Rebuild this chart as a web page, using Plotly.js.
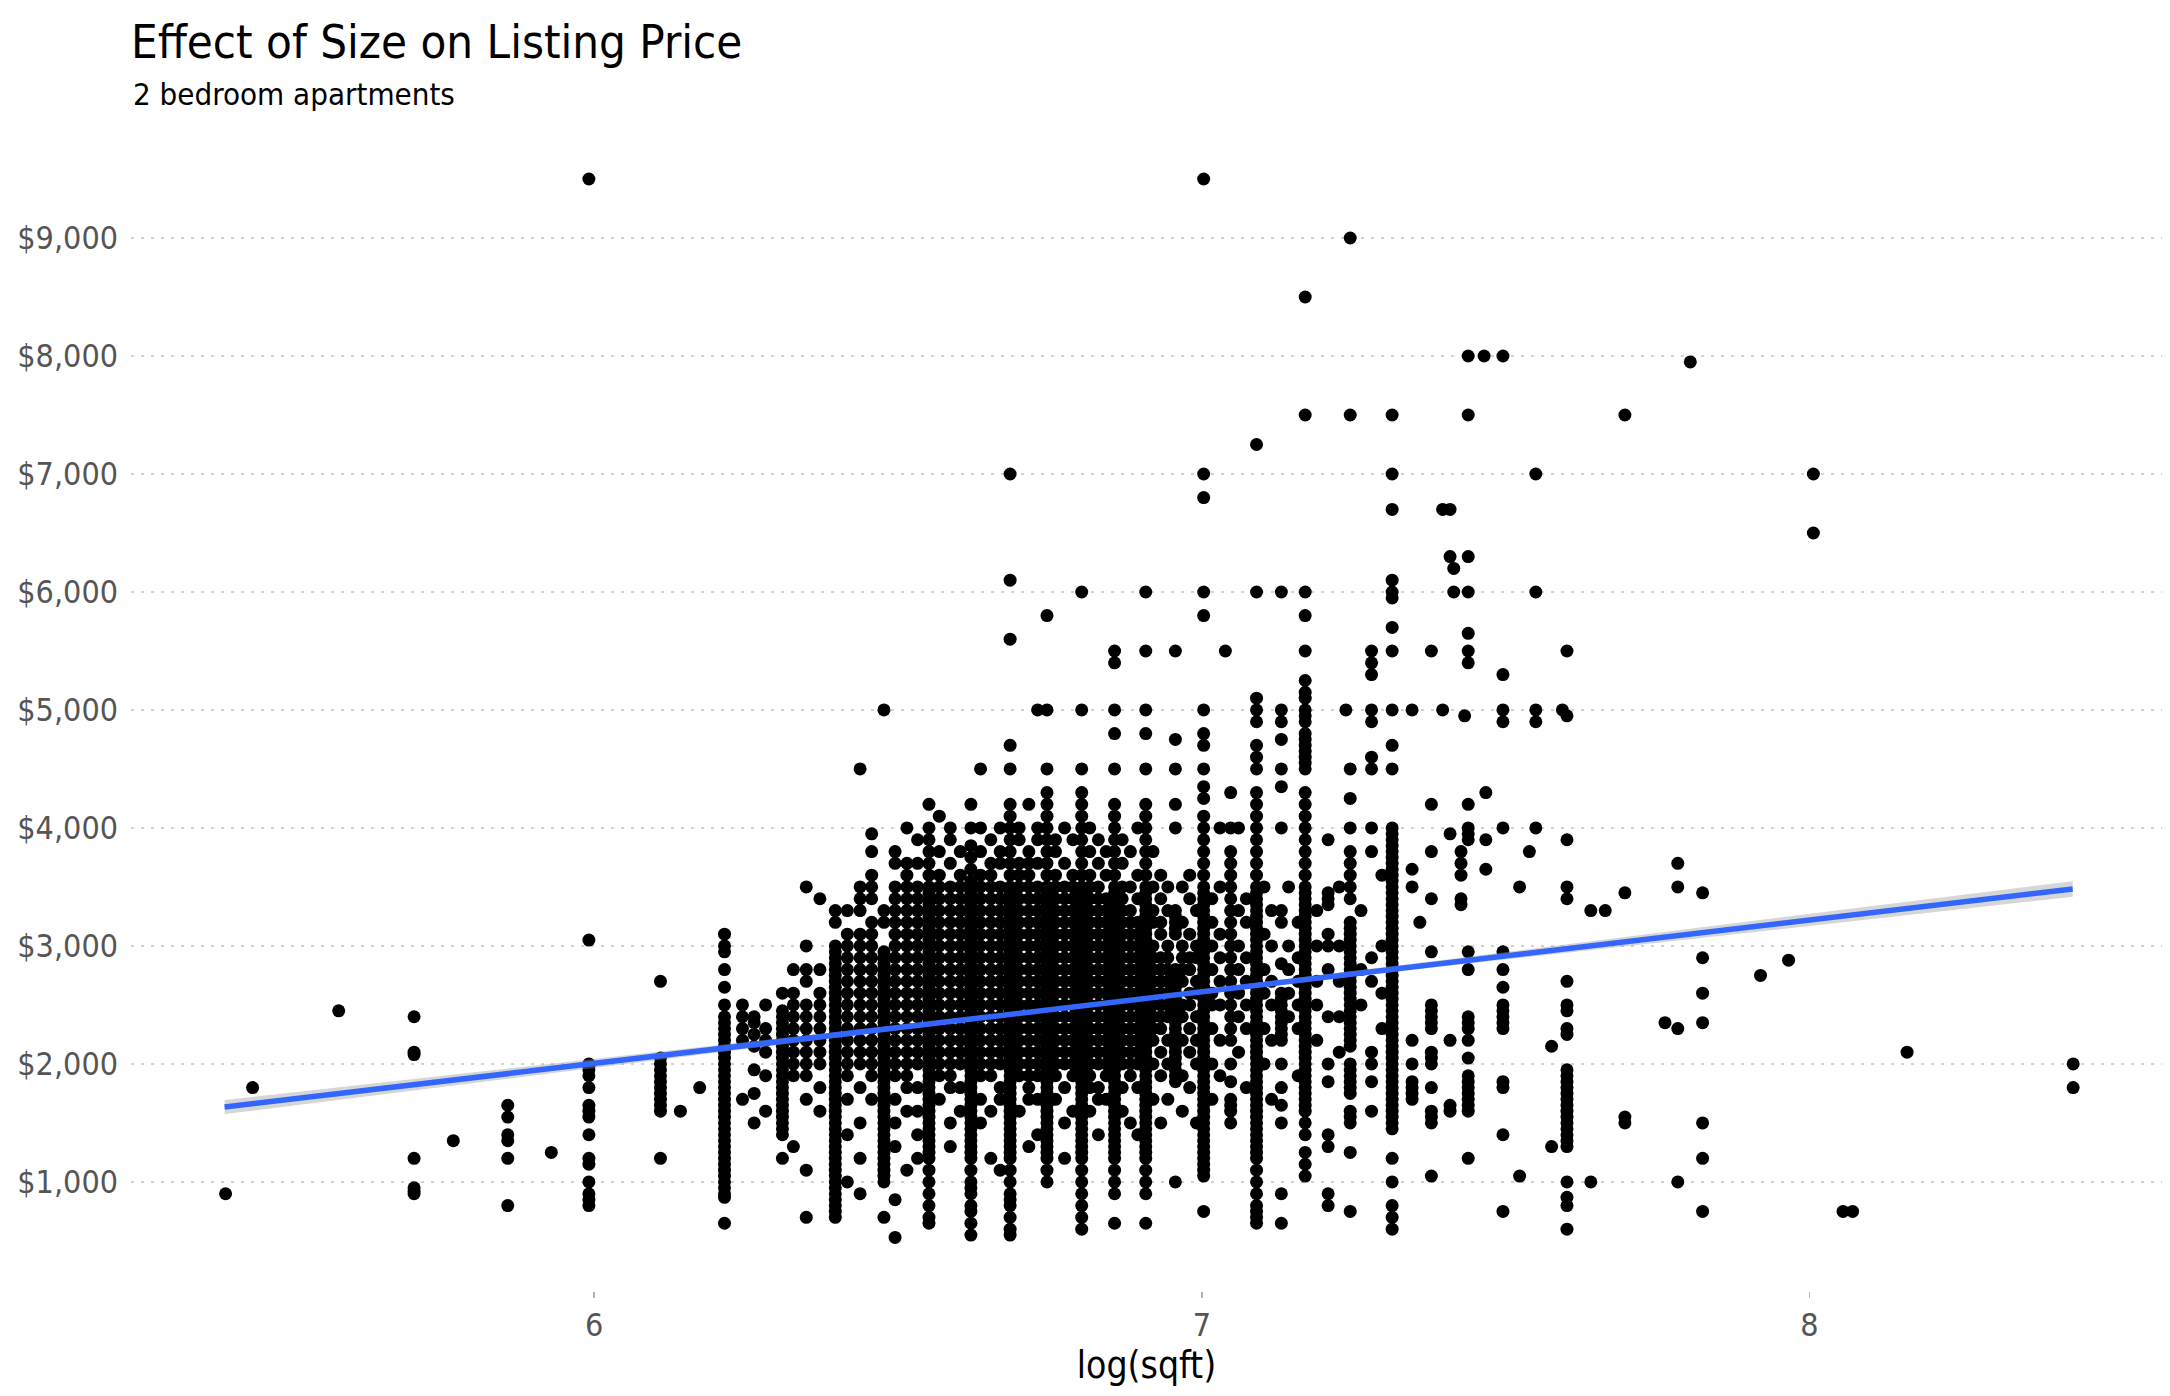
<!DOCTYPE html>
<html>
<head>
<meta charset="utf-8">
<script src="https://cdn.plot.ly/plotly-3.0.1.min.js"></script>
<style>
  html, body { margin: 0; padding: 0; background: #fff; }
  #chart { width: 2170px; height: 1396px; }
</style>
</head>
<body>
<div id="chart"></div>
<script>
const titleText = 'Effect of Size on Listing Price'
const subtitleText = '2 bedroom apartments'
const xLabel = 'log(sqft)'
const xTicks = [6, 7, 8]
const yTicks = [1000, 2000, 3000, 4000, 5000, 6000, 7000, 8000, 9000]

// asking prices ($/month) grouped by listed floor area (sqft)
const s220 = [900]
const s230 = [1800]
const s265 = [2450]
const s300 = [2400, 2100, 2080, 1200, 950, 920, 900]
const s320 = [1350]
const s350 = [1650, 1550, 1400, 1350, 1200, 800]
const s376 = [1250]
const s400 = [9500, 3050, 2000, 1980, 1950, 1900, 1800, 1650, 1600, 1550, 1400, 1200, 1150, 1000, 900, 850, 800]
const s450 = [2700, 2050, 2000, 1950, 1900, 1850, 1800, 1750, 1700, 1650, 1600, 1200]
const s465 = [1600]
const s480 = [1800]
const s500 = [3100, 3000, 2950, 2800, 2650, 2500, 2400, 2350, 2300, 2250, 2200, 2150, 2100, 2050, 2000, 1950, 1900, 1850, 1800, 1750, 1700, 1650, 1600, 1550, 1500, 1450, 1400, 1350, 1300, 1250, 1200, 1150, 1100, 1050, 1000, 950, 900, 870, 650]
const s515 = [2500, 2400, 2300, 2200, 1700]
const s525 = [2400, 2350, 2250, 2150, 1950, 1750, 1500]
const s535 = [2500, 2300, 2200, 2100, 1900, 1600]
const s550 = [2600, 2450, 2400, 2350, 2300, 2250, 2200, 2150, 2100, 2050, 2000, 1950, 1900, 1850, 1800, 1750, 1700, 1650, 1600, 1550, 1500, 1450, 1400, 1200]
const s560 = [2800, 2600, 2500, 2400, 2300, 2200, 2100, 2000, 1900, 1300]
const s572 = [3500, 3000, 2800, 2700, 2500, 2400, 2300, 2200, 2100, 2000, 1900, 1700, 1100, 700]
const s585 = [3400, 2800, 2600, 2500, 2400, 2300, 2200, 2100, 2000, 1800, 1600]
const s600 = [3300, 3200, 3000, 2950, 2900, 2850, 2800, 2750, 2700, 2650, 2600, 2550, 2500, 2450, 2400, 2350, 2300, 2250, 2200, 2150, 2100, 2050, 2000, 1950, 1900, 1850, 1800, 1750, 1700, 1650, 1600, 1550, 1500, 1450, 1400, 1350, 1300, 1250, 1200, 1150, 1100, 1050, 1000, 950, 900, 850, 800, 750, 700]
const s612 = [3300, 3100, 3000, 2900, 2800, 2700, 2600, 2500, 2400, 2300, 2200, 2100, 2000, 1900, 1700, 1400, 1000]
const s625 = [4500, 3500, 3400, 3300, 3100, 3000, 2900, 2800, 2700, 2600, 2500, 2400, 2300, 2200, 2100, 2000, 1800, 1500, 1200, 900]
const s637 = [3950, 3800, 3600, 3500, 3400, 3200, 3100, 3000, 2900, 2800, 2700, 2600, 2500, 2400, 2300, 2200, 2100, 2000, 1900, 1700]
const s650 = [5000, 3300, 3200, 2950, 2900, 2850, 2800, 2750, 2700, 2650, 2600, 2550, 2500, 2450, 2400, 2350, 2300, 2250, 2200, 2150, 2100, 2050, 2000, 1950, 1900, 1850, 1800, 1750, 1700, 1650, 1600, 1550, 1500, 1450, 1400, 1350, 1300, 1250, 1200, 1150, 1100, 1050, 1000, 700]
const s662 = [3800, 3700, 3500, 3400, 3300, 3200, 3100, 3000, 2900, 2800, 2700, 2600, 2500, 2400, 2300, 2200, 2100, 2000, 1900, 1700, 1500, 1300, 850, 530]
const s675 = [4000, 3700, 3600, 3500, 3400, 3300, 3200, 3100, 3000, 2900, 2800, 2700, 2600, 2500, 2400, 2300, 2200, 2100, 2000, 1900, 1800, 1600, 1100]
const s687 = [3900, 3700, 3500, 3400, 3300, 3200, 3100, 3000, 2900, 2800, 2700, 2600, 2500, 2400, 2300, 2200, 2100, 2000, 1800, 1600, 1400, 1200]
const s700 = [4200, 4000, 3900, 3800, 3700, 3600, 3500, 3450, 3400, 3350, 3300, 3250, 3200, 3150, 3100, 3050, 3000, 2950, 2900, 2850, 2800, 2750, 2700, 2650, 2600, 2550, 2500, 2450, 2400, 2350, 2300, 2250, 2200, 2150, 2100, 2050, 2000, 1950, 1900, 1850, 1800, 1750, 1700, 1650, 1600, 1550, 1500, 1450, 1400, 1350, 1300, 1250, 1200, 1100, 1000, 900, 800, 700, 650]
const s712 = [4100, 3800, 3600, 3500, 3400, 3300, 3200, 3100, 3000, 2900, 2800, 2700, 2600, 2500, 2400, 2300, 2200, 2100, 2000, 1900, 1700]
const s725 = [4000, 3900, 3700, 3500, 3400, 3300, 3200, 3100, 3000, 2900, 2800, 2700, 2600, 2500, 2400, 2300, 2200, 2100, 2000, 1900, 1800, 1500, 1300]
const s737 = [3800, 3600, 3500, 3400, 3300, 3200, 3100, 3000, 2900, 2800, 2700, 2600, 2500, 2400, 2300, 2200, 2100, 2000, 1800, 1600]
const s750 = [4200, 4000, 3850, 3750, 3650, 3550, 3500, 3450, 3400, 3350, 3300, 3250, 3200, 3150, 3100, 3050, 3000, 2950, 2900, 2850, 2800, 2750, 2700, 2650, 2600, 2550, 2500, 2450, 2400, 2350, 2300, 2250, 2200, 2150, 2100, 2050, 2000, 1950, 1900, 1850, 1800, 1750, 1700, 1650, 1600, 1550, 1500, 1450, 1400, 1350, 1300, 1250, 1200, 1100, 1000, 950, 900, 800, 750, 650, 550]
const s762 = [4500, 4000, 3800, 3600, 3500, 3400, 3300, 3200, 3100, 3000, 2900, 2800, 2700, 2600, 2500, 2400, 2300, 2200, 2100, 2000, 1900, 1700, 1500]
const s775 = [3900, 3700, 3600, 3500, 3400, 3300, 3200, 3100, 3000, 2900, 2800, 2700, 2600, 2500, 2400, 2300, 2200, 2100, 2000, 1900, 1600, 1200]
const s787 = [4000, 3800, 3700, 3500, 3400, 3300, 3200, 3100, 3000, 2900, 2800, 2700, 2600, 2500, 2400, 2300, 2200, 2100, 2000, 1800, 1700, 1100]
const s800 = [7000, 6100, 5600, 4700, 4500, 4200, 4100, 4000, 3900, 3800, 3700, 3600, 3500, 3450, 3400, 3350, 3300, 3250, 3200, 3150, 3100, 3050, 3000, 2950, 2900, 2850, 2800, 2750, 2700, 2650, 2600, 2550, 2500, 2450, 2400, 2350, 2300, 2250, 2200, 2150, 2100, 2050, 2000, 1950, 1900, 1850, 1800, 1750, 1700, 1650, 1600, 1550, 1500, 1450, 1400, 1350, 1300, 1250, 1200, 1100, 1000, 900, 850, 800, 700, 600, 550]
const s812 = [4000, 3900, 3700, 3600, 3500, 3400, 3300, 3200, 3100, 3000, 2900, 2800, 2700, 2600, 2500, 2400, 2300, 2200, 2100, 2000, 1900, 1600]
const s825 = [4200, 3800, 3700, 3600, 3500, 3400, 3300, 3200, 3100, 3000, 2900, 2800, 2700, 2600, 2500, 2400, 2300, 2200, 2100, 2000, 1900, 1800, 1700, 1300]
const s837 = [5000, 4000, 3900, 3700, 3500, 3400, 3300, 3200, 3100, 3000, 2900, 2800, 2700, 2600, 2500, 2400, 2300, 2200, 2100, 2000, 1900, 1700, 1400]
const s850 = [5800, 5000, 4500, 4300, 4200, 4100, 4000, 3900, 3800, 3700, 3600, 3500, 3450, 3400, 3350, 3300, 3250, 3200, 3150, 3100, 3050, 3000, 2950, 2900, 2850, 2800, 2750, 2700, 2650, 2600, 2550, 2500, 2450, 2400, 2350, 2300, 2250, 2200, 2150, 2100, 2050, 2000, 1950, 1900, 1850, 1800, 1750, 1700, 1650, 1600, 1550, 1500, 1450, 1400, 1350, 1300, 1250, 1200, 1100, 1000]
const s862 = [3900, 3800, 3600, 3500, 3400, 3300, 3200, 3100, 3000, 2900, 2800, 2700, 2600, 2500, 2400, 2300, 2200, 2100, 2000, 1900, 1700]
const s875 = [4000, 3700, 3500, 3400, 3300, 3200, 3100, 3000, 2900, 2800, 2700, 2600, 2500, 2400, 2300, 2200, 2100, 2000, 1800, 1500, 1200]
const s887 = [3900, 3600, 3500, 3400, 3300, 3200, 3100, 3000, 2900, 2800, 2700, 2600, 2500, 2400, 2300, 2200, 2100, 2000, 1900, 1600]
const s900 = [6000, 5000, 4500, 4300, 4200, 4100, 4000, 3900, 3800, 3700, 3600, 3500, 3450, 3400, 3350, 3300, 3250, 3200, 3150, 3100, 3050, 3000, 2950, 2900, 2850, 2800, 2750, 2700, 2650, 2600, 2550, 2500, 2450, 2400, 2350, 2300, 2250, 2200, 2150, 2100, 2050, 2000, 1950, 1900, 1850, 1800, 1750, 1700, 1650, 1600, 1550, 1500, 1450, 1400, 1350, 1300, 1250, 1200, 1100, 1000, 900, 800, 700, 600]
const s912 = [4000, 3800, 3600, 3500, 3400, 3300, 3200, 3100, 3000, 2900, 2800, 2700, 2600, 2500, 2400, 2300, 2200, 2100, 2000, 1900, 1800, 1600]
const s925 = [3900, 3700, 3500, 3400, 3300, 3200, 3100, 3000, 2900, 2800, 2700, 2600, 2500, 2400, 2300, 2200, 2100, 2000, 1800, 1700, 1400]
const s937 = [3800, 3600, 3400, 3300, 3200, 3100, 3000, 2900, 2800, 2700, 2600, 2500, 2400, 2300, 2200, 2100, 2000, 1900, 1700]
const s950 = [5500, 5400, 5000, 4800, 4500, 4200, 4100, 4000, 3900, 3800, 3700, 3600, 3500, 3450, 3400, 3350, 3300, 3250, 3200, 3150, 3100, 3050, 3000, 2950, 2900, 2850, 2800, 2750, 2700, 2650, 2600, 2550, 2500, 2450, 2400, 2350, 2300, 2250, 2200, 2150, 2100, 2050, 2000, 1950, 1900, 1850, 1800, 1750, 1700, 1650, 1600, 1550, 1500, 1450, 1400, 1350, 1300, 1250, 1200, 1100, 1000, 900, 650]
const s962 = [3900, 3700, 3500, 3400, 3300, 3200, 3100, 3000, 2900, 2800, 2700, 2600, 2500, 2400, 2300, 2200, 2100, 2000, 1800, 1600]
const s975 = [3800, 3500, 3300, 3200, 3100, 3000, 2900, 2800, 2700, 2600, 2500, 2400, 2300, 2200, 2100, 2000, 1900, 1500]
const s987 = [4000, 3600, 3400, 3200, 3100, 3000, 2900, 2800, 2700, 2600, 2500, 2400, 2300, 2200, 2100, 2000, 1800, 1400]
const s1000 = [6000, 5500, 5000, 4800, 4500, 4200, 4100, 4000, 3900, 3800, 3700, 3600, 3500, 3450, 3400, 3350, 3300, 3250, 3200, 3150, 3100, 3050, 3000, 2950, 2900, 2850, 2800, 2750, 2700, 2650, 2600, 2550, 2500, 2450, 2400, 2350, 2300, 2250, 2200, 2150, 2100, 2050, 2000, 1950, 1900, 1850, 1800, 1750, 1700, 1650, 1600, 1550, 1500, 1450, 1400, 1350, 1300, 1250, 1200, 1100, 1000, 900, 650]
const s1012 = [3800, 3500, 3300, 3200, 3000, 2900, 2800, 2700, 2600, 2500, 2400, 2300, 2200, 2000, 1700]
const s1025 = [3600, 3400, 3200, 3100, 2900, 2800, 2700, 2600, 2500, 2400, 2300, 2100, 1900, 1500]
const s1037 = [3500, 3300, 3000, 2900, 2800, 2700, 2600, 2500, 2400, 2200, 2000, 1700]
const s1050 = [5500, 4750, 4500, 4200, 4000, 3300, 3250, 3200, 3150, 3100, 2800, 2750, 2700, 2650, 2600, 2550, 2500, 2450, 2400, 2350, 2300, 2250, 2200, 2150, 2100, 2050, 2000, 1950, 1900, 1850, 1000]
const s1062 = [3500, 3200, 3000, 2900, 2800, 2700, 2500, 2400, 2200, 1900, 1600]
const s1075 = [3600, 3400, 3100, 2900, 2800, 2600, 2500, 2300, 2100, 1800]
const s1087 = [3300, 3000, 2900, 2700, 2600, 2400, 2200, 2000, 1500]
const s1100 = [9500, 7000, 6800, 6000, 5800, 5000, 4800, 4700, 4500, 4350, 4250, 4100, 4000, 3900, 3800, 3700, 3600, 3500, 3450, 3400, 3350, 3300, 3250, 3200, 3150, 3100, 3050, 3000, 2950, 2900, 2850, 2800, 2750, 2700, 2650, 2600, 2550, 2500, 2450, 2400, 2350, 2300, 2250, 2200, 2150, 2100, 2050, 2000, 1950, 1900, 1850, 1800, 1750, 1700, 1650, 1600, 1550, 1500, 1450, 1400, 1350, 1300, 1250, 1200, 1150, 1100, 1050, 750]
const s1115 = [3400, 3200, 3000, 2800, 2600, 2500, 2300, 2000, 1700]
const s1130 = [4000, 3500, 3100, 2900, 2700, 2500, 2200, 1900]
const s1140 = [5500]
const s1150 = [4300, 4000, 3800, 3700, 3600, 3500, 3400, 3300, 3200, 3100, 3000, 2900, 2800, 2700, 2600, 2500, 2400, 2300, 2200, 2000, 1850, 1700, 1650, 1600, 1500]
const s1165 = [4000, 3300, 3000, 2800, 2600, 2400, 2100]
const s1180 = [3400, 3200, 2900, 2700, 2500, 2300, 1800]
const s1200 = [7250, 6000, 5100, 5000, 4900, 4700, 4600, 4500, 4300, 4200, 4100, 4000, 3900, 3800, 3700, 3600, 3500, 3450, 3400, 3350, 3300, 3250, 3200, 3150, 3100, 3050, 3000, 2950, 2900, 2850, 2800, 2750, 2700, 2650, 2600, 2550, 2500, 2450, 2400, 2350, 2300, 2250, 2200, 2150, 2100, 2050, 2000, 1950, 1900, 1850, 1800, 1750, 1700, 1650, 1600, 1550, 1500, 1450, 1400, 1350, 1300, 1250, 1200, 1100, 1000, 900, 800, 750, 700, 650]
const s1215 = [3500, 3100, 2800, 2600, 2300, 2000]
const s1230 = [3300, 3000, 2700, 2500, 2200, 1700]
const s1250 = [6000, 5000, 4900, 4750, 4500, 4350, 4000, 3300, 3200, 2850, 2600, 2550, 2500, 2450, 2400, 2350, 2300, 2250, 2200, 2000, 1800, 1650, 1500, 900, 650]
const s1265 = [3500, 3000, 2800, 2600, 2400]
const s1285 = [3200, 2900, 2700, 2500, 2300, 1900]
const s1300 = [8500, 7500, 6000, 5800, 5500, 5250, 5150, 5100, 5000, 4950, 4900, 4800, 4750, 4700, 4650, 4600, 4550, 4500, 4300, 4200, 4100, 4000, 3900, 3800, 3700, 3600, 3500, 3450, 3400, 3350, 3300, 3250, 3200, 3150, 3100, 3050, 3000, 2950, 2900, 2850, 2800, 2750, 2700, 2650, 2600, 2550, 2500, 2450, 2400, 2350, 2300, 2250, 2200, 2150, 2100, 2050, 2000, 1950, 1900, 1850, 1800, 1750, 1700, 1650, 1600, 1500, 1400, 1250, 1150, 1050]
const s1325 = [3300, 3000, 2700, 2500, 2200]
const s1350 = [3900, 3450, 3400, 3350, 3100, 3000, 2800, 2400, 2000, 1850, 1400, 1300, 900, 800]
const s1375 = [3500, 3000, 2700, 2400, 2100]
const s1390 = [5000]
const s1400 = [9000, 7500, 4500, 4250, 4000, 3800, 3700, 3600, 3500, 3400, 3200, 3150, 3100, 3050, 3000, 2950, 2900, 2850, 2800, 2750, 2700, 2650, 2600, 2550, 2500, 2450, 2400, 2350, 2300, 2250, 2200, 2150, 2000, 1950, 1900, 1850, 1800, 1750, 1600, 1550, 1500, 1250, 750]
const s1425 = [3300, 2800, 2500]
const s1450 = [5500, 5400, 5300, 5000, 4900, 4600, 4500, 4000, 3800, 2900, 2700, 2100, 2000, 1850, 1600]
const s1475 = [3600, 3000, 2600, 2300]
const s1500 = [7500, 7000, 6700, 6100, 6000, 5950, 5700, 5500, 5000, 4700, 4500, 4000, 3950, 3900, 3850, 3800, 3750, 3700, 3650, 3600, 3550, 3500, 3450, 3400, 3350, 3300, 3250, 3200, 3150, 3100, 3050, 3000, 2950, 2900, 2850, 2800, 2750, 2700, 2650, 2600, 2550, 2500, 2450, 2400, 2350, 2300, 2250, 2200, 2150, 2100, 2050, 2000, 1950, 1900, 1850, 1800, 1750, 1700, 1650, 1600, 1550, 1500, 1450, 1200, 1000, 800, 700, 600]
const s1550 = [5000, 3650, 3500, 2200, 2000, 1850, 1800, 1750, 1700]
const s1570 = [3200]
const s1600 = [5500, 4200, 3800, 3400, 2950, 2500, 2450, 2400, 2350, 2300, 2100, 2050, 2000, 1800, 1600, 1550, 1500, 1050]
const s1630 = [6700, 5000]
const s1650 = [6700, 6300, 3950, 2200, 1650, 1600]
const s1660 = [6200, 6000]
const s1680 = [3800, 3700, 3600, 3400, 3350]
const s1690 = [4950]
const s1700 = [8000, 7500, 6300, 6000, 5650, 5500, 5400, 4200, 4000, 3950, 3900, 2950, 2800, 2400, 2350, 2300, 2200, 2050, 1900, 1850, 1800, 1750, 1700, 1650, 1600, 1200]
const s1745 = [8000]
const s1750 = [4300, 3900, 3650]
const s1800 = [8000, 5300, 5000, 4900, 4000, 2950, 2800, 2650, 2500, 2450, 2400, 2350, 2300, 1850, 1800, 1400, 750]
const s1850 = [3500, 1050]
const s1880 = [3800]
const s1900 = [7000, 6000, 5000, 4900, 4000]
const s1950 = [2150, 1300]
const s1985 = [5000]
const s2000 = [5500, 4950, 3900, 3500, 3400, 2700, 2500, 2450, 2300, 2250, 1950, 1900, 1850, 1800, 1750, 1700, 1650, 1600, 1550, 1500, 1450, 1400, 1350, 1300, 1000, 870, 800, 600]
const s2080 = [3300, 1000]
const s2130 = [3300]
const s2200 = [7500, 3450, 1550, 1500]
const s2350 = [2350]
const s2400 = [3700, 3500, 2300, 1000]
const s2450 = [7950]
const s2500 = [3450, 2900, 2600, 2350, 1500, 1200, 750]
const s2750 = [2750]
const s2880 = [2880]
const s3000 = [7000, 6500]
const s3150 = [750]
const s3200 = [750]
const s3500 = [2100]
const s4600 = [2000, 1800]

const columns = [
    [220, s220], [230, s230], [265, s265], [300, s300], [320, s320], [350, s350], [376, s376],
    [400, s400], [450, s450], [465, s465], [480, s480], [500, s500], [515, s515], [525, s525],
    [535, s535], [550, s550], [560, s560], [572, s572], [585, s585], [600, s600], [612, s612],
    [625, s625], [637, s637], [650, s650], [662, s662], [675, s675], [687, s687], [700, s700],
    [712, s712], [725, s725], [737, s737], [750, s750], [762, s762], [775, s775], [787, s787],
    [800, s800], [812, s812], [825, s825], [837, s837], [850, s850], [862, s862], [875, s875],
    [887, s887], [900, s900], [912, s912], [925, s925], [937, s937], [950, s950], [962, s962],
    [975, s975], [987, s987], [1000, s1000], [1012, s1012], [1025, s1025], [1037, s1037],
    [1050, s1050], [1062, s1062], [1075, s1075], [1087, s1087], [1100, s1100], [1115, s1115],
    [1130, s1130], [1140, s1140], [1150, s1150], [1165, s1165], [1180, s1180], [1200, s1200],
    [1215, s1215], [1230, s1230], [1250, s1250], [1265, s1265], [1285, s1285], [1300, s1300],
    [1325, s1325], [1350, s1350], [1375, s1375], [1390, s1390], [1400, s1400], [1425, s1425],
    [1450, s1450], [1475, s1475], [1500, s1500], [1550, s1550], [1570, s1570], [1600, s1600],
    [1630, s1630], [1650, s1650], [1660, s1660], [1680, s1680], [1690, s1690], [1700, s1700],
    [1745, s1745], [1750, s1750], [1800, s1800], [1850, s1850], [1880, s1880], [1900, s1900],
    [1950, s1950], [1985, s1985], [2000, s2000], [2080, s2080], [2130, s2130], [2200, s2200],
    [2350, s2350], [2400, s2400], [2450, s2450], [2500, s2500], [2750, s2750], [2880, s2880],
    [3000, s3000], [3150, s3150], [3200, s3200], [3500, s3500], [4600, s4600]
]

// linear fit of price on log(sqft) with its confidence band
const fitLogSqft = [5.392, 5.8, 6.2, 6.6, 6.8, 7.0, 7.4, 7.8, 8.2, 8.433]
const fitPrice = [1635, 1883, 2126, 2369, 2491, 2613, 2856, 3099, 3342, 3483]
const fitLower = [1575, 1838, 2098, 2352, 2475, 2595, 2828, 3054, 3284, 3417]
const fitUpper = [1695, 1928, 2154, 2386, 2507, 2631, 2884, 3144, 3400, 3549]

var fontFamily = 'Tahoma, "DejaVu Sans Condensed", "DejaVu Sans", sans-serif'

var px = []
var py = []
columns.forEach(function (col) {
    col[1].forEach(function (price) {
        px.push(Math.log(col[0]))
        py.push(price)
    })
})

var yTickText = yTicks.map(function (v) { return '$' + v.toLocaleString('en-US') })

var traces = [
    {
        x: px, y: py,
        type: 'scatter', mode: 'markers',
        marker: { color: '#000000', size: 13, line: { width: 0 } },
        hoverinfo: 'skip'
    },
    {
        x: fitLogSqft, y: fitLower,
        type: 'scatter', mode: 'lines',
        line: { width: 0, color: 'rgba(0,0,0,0)' },
        hoverinfo: 'skip'
    },
    {
        x: fitLogSqft, y: fitUpper,
        type: 'scatter', mode: 'lines',
        fill: 'tonexty', fillcolor: 'rgba(153,153,153,0.4)',
        line: { width: 0, color: 'rgba(0,0,0,0)' },
        hoverinfo: 'skip'
    },
    {
        x: fitLogSqft, y: fitPrice,
        type: 'scatter', mode: 'lines',
        line: { width: 5.5, color: '#3366FF' },
        hoverinfo: 'skip'
    }
]

var layout = {
    width: 2170,
    height: 1396,
    margin: { l: 131, r: 8, t: 126, b: 105 },
    paper_bgcolor: '#ffffff',
    plot_bgcolor: '#ffffff',
    showlegend: false,
    font: { family: fontFamily, color: '#000000' },
    title: {
        text: titleText,
        font: { family: fontFamily, size: 47, color: '#000000' },
        xref: 'paper', x: 0, xanchor: 'left',
        yref: 'container', y: 0.97, yanchor: 'middle'
    },
    annotations: [{
        text: subtitleText,
        xref: 'paper', x: 0, xanchor: 'left',
        yref: 'paper', y: 1.0275, yanchor: 'middle',
        showarrow: false,
        font: { family: fontFamily, size: 31, color: '#000000' }
    }],
    xaxis: {
        range: [5.238, 8.58],
        tickmode: 'array', tickvals: xTicks,
        ticks: 'outside', ticklen: 6, tickwidth: 1.5, tickcolor: '#b3b3b3',
        showgrid: false, zeroline: false, showline: false,
        tickfont: { family: fontFamily, size: 32, color: '#555555' },
        title: { text: xLabel, standoff: 8, font: { family: fontFamily, size: 37, color: '#000000' } }
    },
    yaxis: {
        range: [76, 9949],
        tickmode: 'array', tickvals: yTicks, ticktext: yTickText,
        ticks: '', ticklabelstandoff: 12,
        showgrid: true, gridcolor: '#d2d2d2', gridwidth: 1.5, griddash: '3px,7px',
        zeroline: false, showline: false,
        tickfont: { family: fontFamily, size: 32, color: '#555555' }
    }
}

Plotly.newPlot('chart', traces, layout, { displayModeBar: false, staticPlot: true })
</script>
</body>
</html>
